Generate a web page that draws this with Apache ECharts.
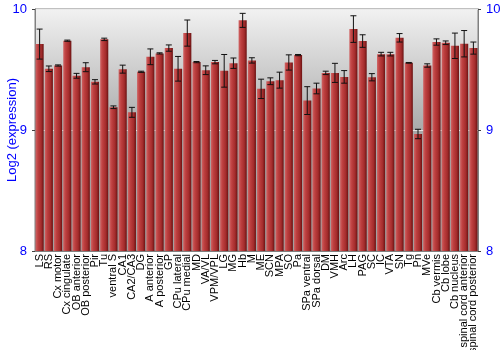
<!DOCTYPE html>
<html><head><meta charset="utf-8">
<script src="https://cdn.jsdelivr.net/npm/echarts@6/dist/echarts.min.js"></script>
<style>html,body{margin:0;padding:0;background:#fff}#c{width:500px;height:350px}</style>
</head><body><div id="c"></div>
<script>
var categories = ["LS","RS","Cx motor","Cx cingulate","OB anterior","OB posterior","Pir","Tu","ventral S","CA1","CA2/CA3","DG","A anterior","A posterior","GP","CPu lateral","CPu medial","MD","VA/VL","VPM/VPL","LG","MG","Hb","M","ME","SCN","MPA","SO","Pa","SPa ventral","SPa dorsal","DM","VMH","Arc","LH","PAG","SC","IC","VTA","SN","Tg","Pn","MVe","Cb vermis","Cb lobe","Cb nucleus","spinal cord anterior","spinal cord posterior"];
var values = [9.710,9.506,9.533,9.738,9.448,9.519,9.398,9.749,9.188,9.503,9.146,9.481,9.605,9.633,9.677,9.506,9.801,9.561,9.494,9.561,9.489,9.552,9.906,9.575,9.340,9.403,9.412,9.558,9.619,9.243,9.343,9.472,9.472,9.439,9.834,9.735,9.436,9.627,9.627,9.762,9.555,8.967,9.533,9.727,9.721,9.696,9.713,9.677];
var errors = [0.124,0.023,0.005,0.005,0.020,0.037,0.018,0.010,0.011,0.033,0.041,0.005,0.065,0.005,0.026,0.102,0.108,0.005,0.036,0.014,0.135,0.043,0.058,0.022,0.080,0.028,0.066,0.063,0.005,0.115,0.044,0.014,0.079,0.052,0.110,0.052,0.030,0.015,0.015,0.035,0.003,0.039,0.014,0.026,0.015,0.105,0.109,0.050];
var yTicks = [8, 9, 10];
var yTitle = 'Log2 (expression)';

var errData = values.map(function(v, i){ return [i, v - errors[i], v + errors[i]]; });
var chart = echarts.init(document.getElementById('c'), null, {renderer:'canvas'});
var yAxisCommon = {
  type:'value', min:yTicks[0], max:yTicks[yTicks.length-1], interval:1,
  axisLine:{show:true, lineStyle:{color:'#808080'}},
  axisTick:{show:true, length:3, lineStyle:{color:'#404040'}},
  axisLabel:{color:'#0000ff', fontSize:13, fontFamily:'Liberation Sans'}
};
chart.setOption({
  animation:false,
  graphic:[{type:'text', x:12, y:130, rotation:Math.PI/2,
    style:{text:yTitle, fill:'#0000ff', font:'13px "Liberation Sans"', textAlign:'center', textVerticalAlign:'middle', align:'center', verticalAlign:'middle'}}],
  grid:{left:35, right:22, top:9, bottom:99, outerBoundsMode:'none', containLabel:false,
    show:true, borderColor:'#808080', borderWidth:1,
    backgroundColor:new echarts.graphic.LinearGradient(0,0,0,1,[
      {offset:0,color:'#f2f2f2'},{offset:0.5,color:'#a9a9a9'},{offset:1,color:'#a0a0a0'}])},
  xAxis:{type:'category', data:categories,
    axisLine:{show:true, lineStyle:{color:'#808080'}}, axisTick:{show:false},
    axisLabel:{interval:0, rotate:90, fontSize:11, color:'#000', margin:3, fontFamily:'Liberation Sans'}},
  yAxis:[
    Object.assign({}, yAxisCommon, {position:'left',
      splitLine:{show:true, lineStyle:{color:'rgba(255,255,255,0.7)'}}}),
    Object.assign({}, yAxisCommon, {position:'right', splitLine:{show:false}})
  ],
  series:[
    {type:'bar', data:values, barCategoryGap:'12%',
      itemStyle:{color:new echarts.graphic.LinearGradient(0,0,1,0,[
        {offset:0,color:'#d06464'},{offset:0.3,color:'#be4040'},{offset:0.7,color:'#a42c2c'},{offset:1,color:'#6a1212'}])}},
    {type:'custom', data:errData, z:10,
      renderItem:function(params, api){
        var x = api.value(0);
        var lo = api.coord([x, api.value(1)]);
        var hi = api.coord([x, api.value(2)]);
        var w = 3;
        var st = {stroke:'#111', lineWidth:1};
        return {type:'group', children:[
          {type:'line', shape:{x1:lo[0],y1:lo[1],x2:hi[0],y2:hi[1]}, style:st},
          {type:'line', shape:{x1:lo[0]-w,y1:lo[1],x2:lo[0]+w,y2:lo[1]}, style:st},
          {type:'line', shape:{x1:hi[0]-w,y1:hi[1],x2:hi[0]+w,y2:hi[1]}, style:st}
        ]};
      }}
  ]
});
</script></body></html>
